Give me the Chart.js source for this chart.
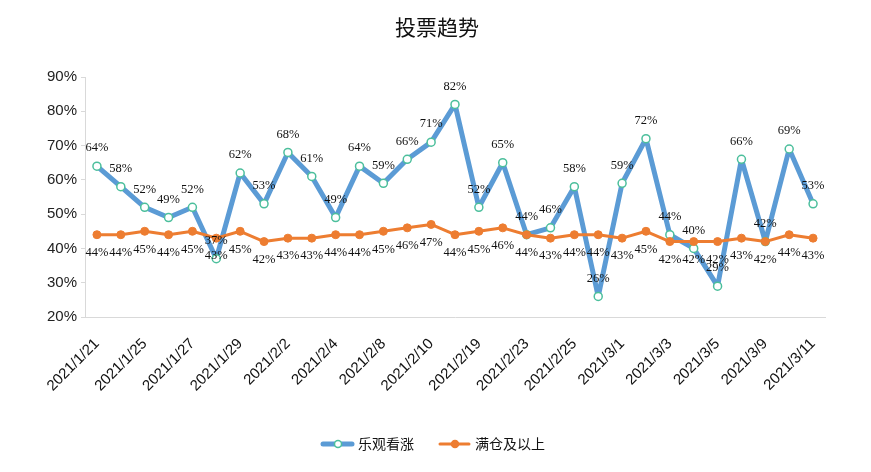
<!DOCTYPE html>
<html>
<head>
<meta charset="utf-8">
<script src="https://cdn.jsdelivr.net/npm/chart.js@4"></script>
<style>
  body { margin: 0; background: #fff; }
  #wrap { width: 871px; height: 472px; }
</style>
</head>
<body>
<div id="wrap"><canvas id="myChart"></canvas></div>
<script>
const dates = ['2021/1/21', '2021/1/22', '2021/1/25', '2021/1/26', '2021/1/27', '2021/1/28', '2021/1/29',
  '2021/2/1', '2021/2/2', '2021/2/3', '2021/2/4', '2021/2/5', '2021/2/8', '2021/2/9', '2021/2/10',
  '2021/2/18', '2021/2/19', '2021/2/22', '2021/2/23', '2021/2/24', '2021/2/25', '2021/2/26',
  '2021/3/1', '2021/3/2', '2021/3/3', '2021/3/4', '2021/3/5', '2021/3/8', '2021/3/9', '2021/3/10', '2021/3/11'];
const bullish = [64, 58, 52, 49, 52, 37, 62, 53, 68, 61, 49, 64, 59, 66, 71, 82, 52, 65, 44, 46, 58, 26, 59, 72, 44, 40, 29, 66, 42, 69, 53];
const fullPos = [44, 44, 45, 44, 45, 43, 45, 42, 43, 43, 44, 44, 45, 46, 47, 44, 45, 46, 44, 43, 44, 44, 43, 45, 42, 42, 42, 43, 42, 44, 43];
const seriesNames = ['乐观看涨', '满仓及以上'];
const yTicks = [20, 30, 40, 50, 60, 70, 80, 90];

const BLUE = '#5b9bd5';
const ORANGE = '#ed7d31';

// title + value labels + legend, drawn by hand
const extrasPlugin = {
  id: 'extras',
  afterDatasetsDraw(chart) {
    const ctx = chart.ctx;
    ctx.save();
    ctx.fillStyle = '#111';
    ctx.font = "12.5px 'Liberation Serif', serif";
    ctx.textAlign = 'center';
    ctx.textBaseline = 'middle';
    chart.data.datasets.forEach((ds, di) => {
      const meta = chart.getDatasetMeta(di);
      meta.data.forEach((pt, i) => {
        const dy = di === 0 ? -18 : 18;
        ctx.fillText(ds.data[i] + '%', pt.x, pt.y + dy);
      });
    });
    ctx.restore();
  },
  afterDraw(chart) {
    const ctx = chart.ctx;
    ctx.save();
    // title
    ctx.fillStyle = '#111';
    ctx.font = "21px 'Noto Sans CJK SC', sans-serif";
    ctx.textAlign = 'center';
    ctx.textBaseline = 'middle';
    ctx.fillText('投票趋势', 437, 27);

    // legend
    const items = [
      { x: 323, name: seriesNames[0], color: BLUE, lw: 5, fill: '#fff', stroke: '#4cbf9c' },
      { x: 440, name: seriesNames[1], color: ORANGE, lw: 3, fill: ORANGE, stroke: ORANGE }
    ];
    const ly = 444;
    items.forEach(it => {
      ctx.strokeStyle = it.color;
      ctx.lineWidth = it.lw;
      ctx.lineCap = 'round';
      ctx.beginPath();
      ctx.moveTo(it.x, ly);
      ctx.lineTo(it.x + 29, ly);
      ctx.stroke();
      ctx.beginPath();
      ctx.arc(it.x + 15, ly, 3.5, 0, Math.PI * 2);
      ctx.fillStyle = it.fill;
      ctx.fill();
      ctx.lineWidth = 1.5;
      ctx.strokeStyle = it.stroke;
      ctx.stroke();
      ctx.fillStyle = '#111';
      ctx.font = "14px 'Noto Sans CJK SC', sans-serif";
      ctx.textAlign = 'left';
      ctx.fillText(it.name, it.x + 35, ly);
    });
    ctx.restore();
  }
};

new Chart(document.getElementById('myChart'), {
  type: 'line',
  data: {
    labels: dates,
    datasets: [{
      label: seriesNames[0],
      data: bullish,
      borderColor: BLUE,
      borderWidth: 5,
      borderJoinStyle: 'round',
      pointRadius: 4,
      pointBackgroundColor: '#fff',
      pointBorderColor: '#4cbf9c',
      pointBorderWidth: 1.5,
      tension: 0,
      order: 1
    }, {
      label: seriesNames[1],
      data: fullPos,
      borderColor: ORANGE,
      borderWidth: 3,
      borderJoinStyle: 'round',
      pointRadius: 4,
      pointBackgroundColor: ORANGE,
      pointBorderColor: ORANGE,
      pointBorderWidth: 1,
      tension: 0,
      order: 0
    }]
  },
  options: {
    responsive: true,
    maintainAspectRatio: false,
    animation: false,
    layout: { padding: { top: 77, right: 46, left: 0, bottom: 0 } },
    scales: {
      x: {
        offset: true,
        grid: { display: false },
        border: { display: true, color: '#d9d9d9', width: 1 },
        afterFit: s => { s.height = 155; },
        ticks: {
          autoSkip: false,
          minRotation: 45,
          maxRotation: 45,
          padding: 10,
          color: '#111',
          font: { size: 15, family: "'Liberation Sans', sans-serif" },
          callback: function(value, index) {
            return index % 2 === 0 ? this.getLabelForValue(value) : '';
          }
        }
      },
      y: {
        min: yTicks[0],
        max: yTicks[yTicks.length - 1],
        afterFit: s => { s.width = 85; },
        grid: { drawOnChartArea: false, drawTicks: true, tickLength: 4, color: '#d9d9d9' },
        border: { display: true, color: '#d9d9d9', width: 1 },
        afterBuildTicks: s => { s.ticks = yTicks.map(v => ({ value: v })); },
        ticks: {
          color: '#222',
          padding: 4,
          font: { size: 15, family: "'Liberation Sans', sans-serif" },
          callback: v => v + '%'
        }
      }
    },
    plugins: {
      legend: { display: false },
      title: { display: false },
      tooltip: { enabled: false }
    }
  },
  plugins: [extrasPlugin]
});
</script>
</body>
</html>
